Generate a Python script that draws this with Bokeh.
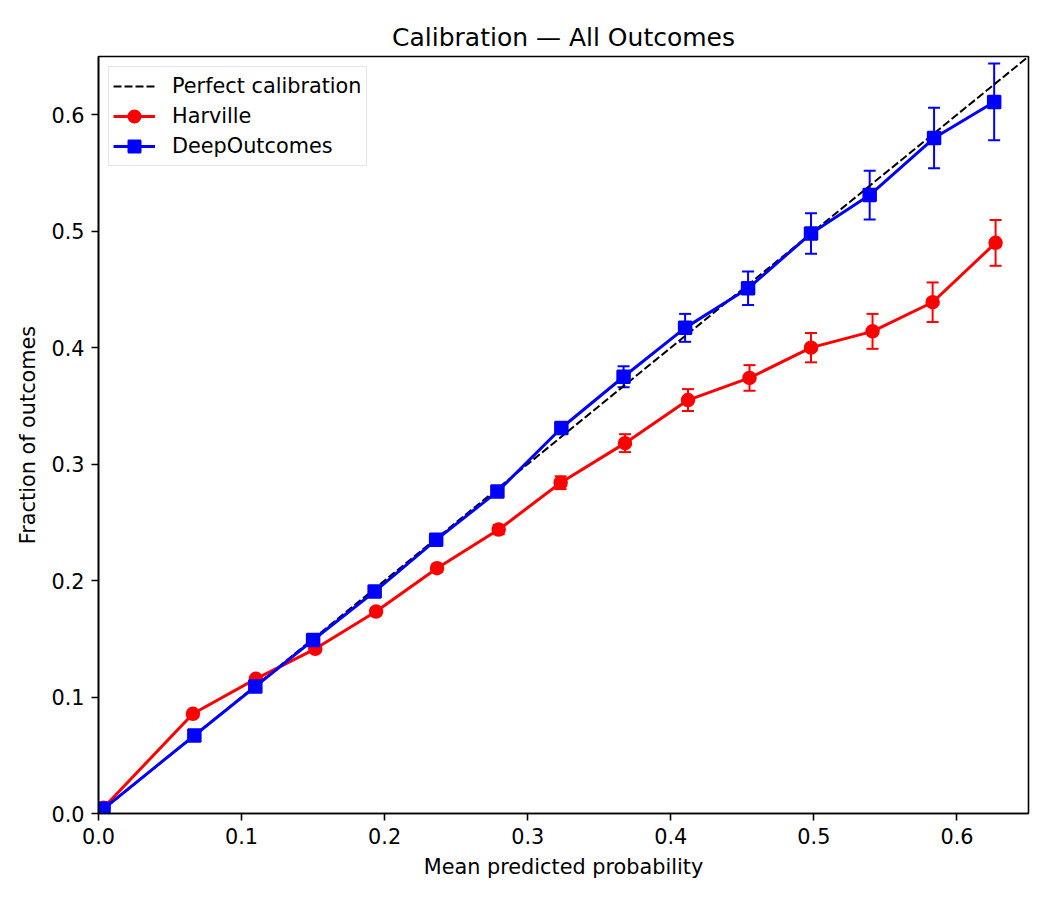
from bokeh.plotting import figure
from bokeh.models import ColumnDataSource, Whisker, TeeHead, Range1d, FixedTicker, Legend, LegendItem
from bokeh.embed import file_html
from bokeh.resources import INLINE

# Data
harville_x = [0.0035, 0.066, 0.110, 0.1515, 0.194, 0.2366, 0.2797, 0.323, 0.368, 0.412, 0.455, 0.498, 0.541, 0.583, 0.627]
harville_y = [0.005, 0.0856, 0.1156, 0.1414, 0.1734, 0.2106, 0.2438, 0.284, 0.318, 0.355, 0.374, 0.400, 0.414, 0.439, 0.490]
harville_err = [0.001, 0.002, 0.002, 0.002, 0.003, 0.003, 0.004, 0.0055, 0.0077, 0.0094, 0.011, 0.0126, 0.015, 0.017, 0.0197]

deep_x = [0.0035, 0.067, 0.1096, 0.150, 0.193, 0.236, 0.2788, 0.3235, 0.367, 0.410, 0.454, 0.498, 0.539, 0.584, 0.626]
deep_y = [0.004, 0.067, 0.109, 0.149, 0.1906, 0.235, 0.2764, 0.331, 0.375, 0.417, 0.451, 0.498, 0.531, 0.580, 0.611]
deep_err = [0.001, 0.002, 0.002, 0.003, 0.003, 0.004, 0.004, 0.0045, 0.009, 0.012, 0.0144, 0.0173, 0.021, 0.026, 0.033]

diag = [0, 0.65]
tick_values = [0.0, 0.1, 0.2, 0.3, 0.4, 0.5, 0.6]
tick_labels = ["0.0", "0.1", "0.2", "0.3", "0.4", "0.5", "0.6"]

FONT = "DejaVu Sans"

p = figure(title="Calibration \u2014 All Outcomes", frame_width=930, frame_height=757,
           min_border_left=98, min_border_right=6, min_border_top=56, min_border_bottom=71,
           x_range=Range1d(0, 0.65), y_range=Range1d(0, 0.65),
           output_backend="svg", toolbar_location=None)

# perfect calibration diagonal
perfect = p.line(diag, diag, line_color="black", line_width=2, line_dash="8 3")

def series(xs, ys, errs, color, marker):
    src = ColumnDataSource(dict(x=xs, y=ys,
                                lower=[y - e for y, e in zip(ys, errs)],
                                upper=[y + e for y, e in zip(ys, errs)]))
    ln = p.line("x", "y", source=src, line_color=color, line_width=3)
    w = Whisker(base="x", lower="lower", upper="upper", source=src,
                line_color=color, line_width=2,
                upper_head=TeeHead(size=12, line_color=color, line_width=2),
                lower_head=TeeHead(size=12, line_color=color, line_width=2))
    p.add_layout(w)
    sc = p.scatter("x", "y", source=src, marker=marker, size=12.5, line_width=2,
                   fill_color=color, line_color=color)
    return [ln, sc]

harville = series(harville_x, harville_y, harville_err, "red", "circle")
deep = series(deep_x, deep_y, deep_err, "blue", "square")

legend = Legend(items=[
    LegendItem(label="Perfect calibration", renderers=[perfect]),
    LegendItem(label="Harville", renderers=harville),
    LegendItem(label="DeepOutcomes", renderers=deep),
], location="top_left")
legend.margin = 10
legend.padding = 4
legend.spacing = 0
legend.glyph_width = 42
legend.glyph_height = 30
legend.label_height = 30
legend.label_standoff = 17
legend.label_text_font = FONT
legend.label_text_font_size = "20.8px"
legend.label_text_color = "black"
legend.border_line_color = "#cccccc"
legend.border_line_width = 1.5
legend.background_fill_alpha = 0.8
p.add_layout(legend)

# matplotlib-like styling
p.title.align = "center"
p.title.text_font = FONT
p.title.text_font_size = "25px"
p.title.text_font_style = "normal"
p.title.text_color = "black"

p.xgrid.visible = False
p.ygrid.visible = False
p.outline_line_color = "black"
p.outline_line_width = 1.6
p.outline_line_alpha = 1

for ax in (p.xaxis, p.yaxis):
    ax.ticker = FixedTicker(ticks=tick_values)
    ax.major_label_overrides = dict(zip(tick_values, tick_labels))
    ax.minor_tick_line_color = None
    ax.major_tick_out = 7
    ax.major_tick_in = 0
    ax.major_tick_line_width = 1.6
    ax.axis_line_width = 1.6
    ax.axis_line_color = "black"
    ax.major_tick_line_color = "black"
    ax.major_label_standoff = 7
    ax.major_label_text_font = FONT
    ax.major_label_text_font_size = "20.8px"
    ax.major_label_text_color = "black"
    ax.axis_label_text_font = FONT
    ax.axis_label_text_font_size = "20.8px"
    ax.axis_label_text_font_style = "normal"
    ax.axis_label_text_color = "black"
    ax.axis_label_standoff = 8

p.xaxis.axis_label = "Mean predicted probability"
p.yaxis.axis_label = "Fraction of outcomes"

open("out.html", "w").write(file_html(p, INLINE))
